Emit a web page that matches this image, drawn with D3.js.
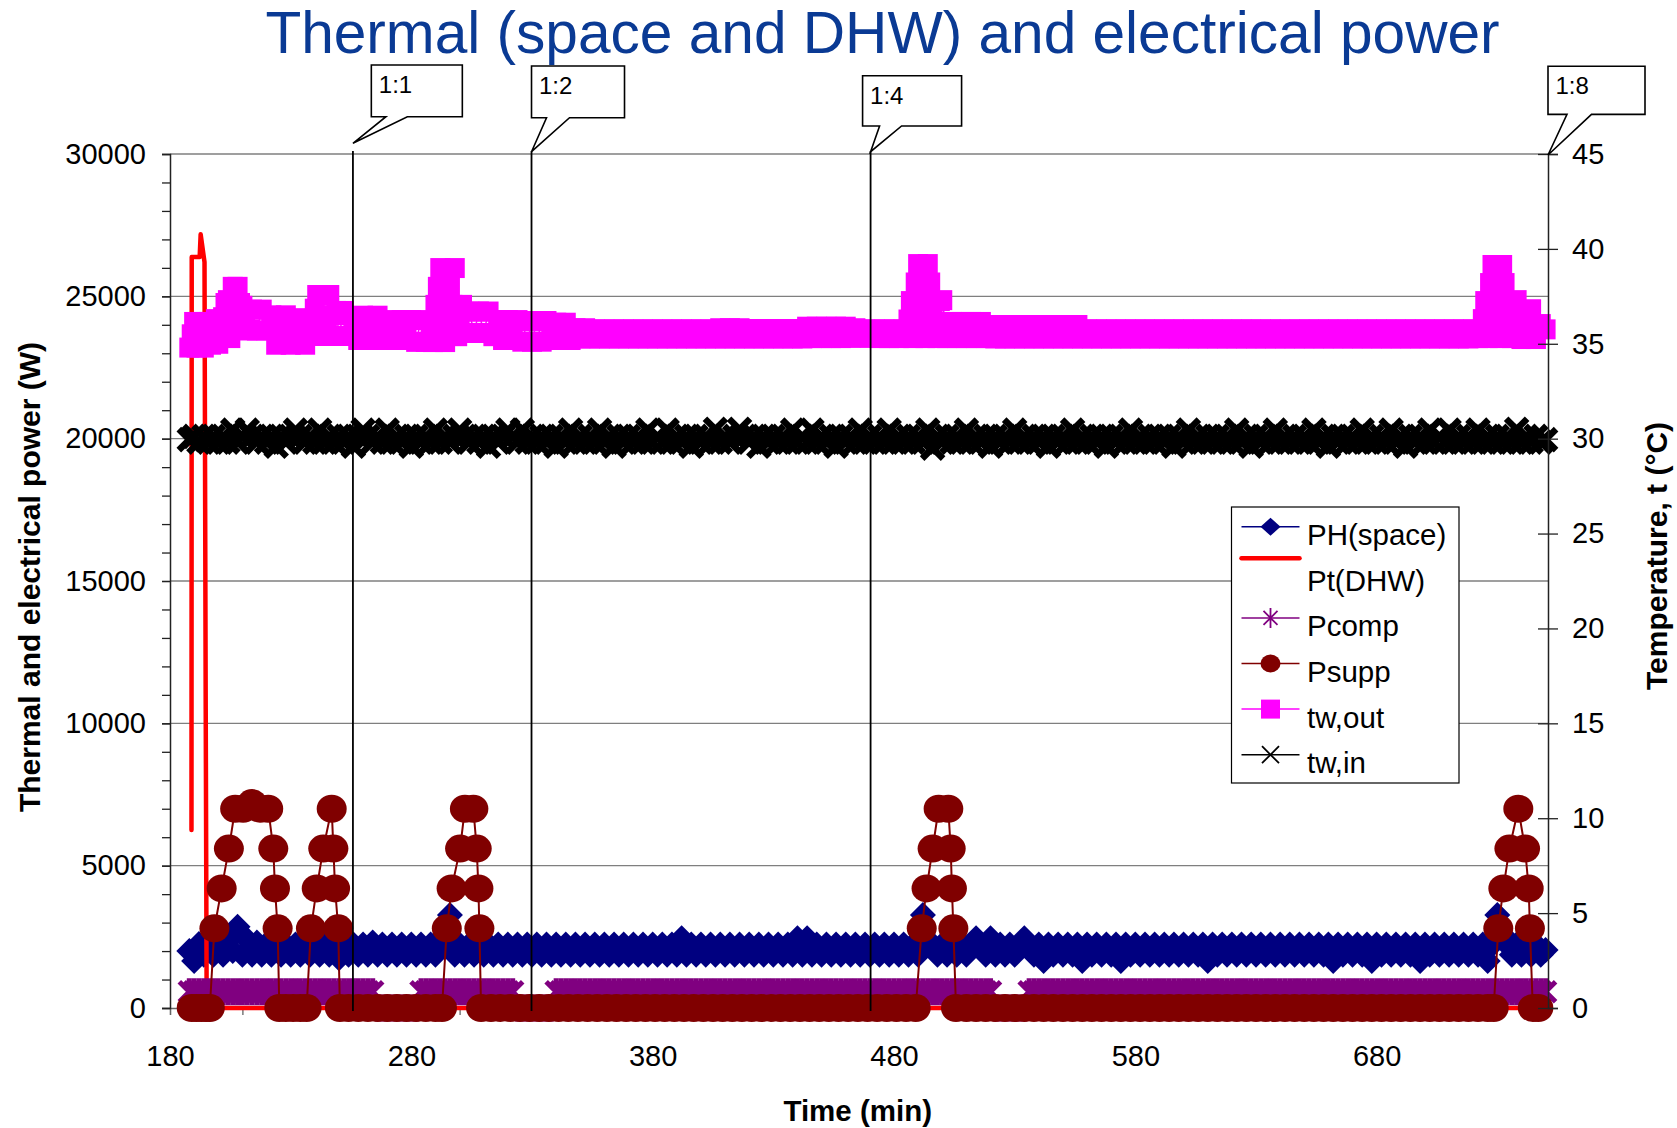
<!DOCTYPE html>
<html>
<head>
<meta charset="utf-8">
<script src="https://cdnjs.cloudflare.com/ajax/libs/d3/7.8.5/d3.min.js"></script>
<style>
  body { margin: 0; background: #fff; }
  svg { display: block; font-family: "Liberation Sans", Arial, sans-serif; }
</style>
</head>
<body>
<div id="container"></div>
<script>
// logged every 2 min from 188 to 750 min
const minutes = d3.range(188, 751, 2)

// PH(space), W
const phSpace = [
  2000, 1650, 2250, 1870, 2350, 1870, 2300, 1870, 2350, 2000,
  2850, 1870, 2400, 1870, 2300, 1870, 2250, 1870, 2300, 1870,
  2230, 1870, 2230, 1870, 2230, 1870, 2300, 1870, 2230, 1870,
  2230, 1750, 2230, 1870, 2230, 1870, 2230, 1870, 2300, 1870,
  2230, 1870, 2230, 1870, 2230, 1870, 2230, 1870, 2230, 1870,
  2230, 1870, 2230, 2600, 3270, 1870, 2230, 1870, 2230, 1870,
  2230, 1870, 2230, 1870, 2230, 1870, 2230, 1870, 2230, 1870,
  2230, 1870, 2230, 1870, 2230, 1870, 2230, 1870, 2230, 1870,
  2230, 1870, 2230, 1870, 2230, 1870, 2230, 1870, 2230, 1870,
  2230, 1870, 2230, 1870, 2230, 1870, 2230, 1870, 2230, 1870,
  2230, 1870, 2450, 1870, 2230, 1870, 2230, 1870, 2230, 1870,
  2230, 1870, 2230, 1870, 2230, 1870, 2230, 1870, 2230, 1870,
  2230, 1870, 2230, 1870, 2230, 1870, 2450, 1870, 2450, 1870,
  2230, 1870, 2230, 1870, 2230, 1870, 2230, 1870, 2230, 1870,
  2230, 1870, 2230, 1870, 2230, 1870, 2230, 1870, 2230, 1870,
  2230, 1870, 3270, 2300, 2230, 1870, 2230, 1870, 2230, 1870,
  2230, 1870, 2230, 2450, 2230, 1870, 2450, 1870, 2230, 1870,
  2230, 1870, 2230, 2450, 2230, 1870, 2230, 1650, 2230, 1870,
  2230, 1870, 2230, 1870, 2230, 1650, 2230, 1870, 2230, 1870,
  2230, 1870, 2230, 1650, 2230, 1870, 2230, 1870, 2230, 1870,
  2230, 1870, 2230, 1870, 2230, 1870, 2230, 1870, 2230, 1870,
  2230, 1650, 2230, 1870, 2230, 1870, 2230, 1870, 2230, 1870,
  2230, 1870, 2230, 1870, 2230, 1870, 2230, 1870, 2230, 1870,
  2230, 1870, 2230, 1870, 2230, 1870, 2230, 1650, 2230, 1870,
  2230, 1870, 2230, 1870, 2230, 1650, 2230, 1870, 2230, 1870,
  2230, 1870, 2230, 1870, 2230, 1650, 2230, 1870, 2230, 1870,
  2230, 1870, 2230, 1870, 2230, 1870, 2230, 1870, 2230, 1650,
  2230, 3270, 2600, 2230, 1870, 2230, 1870, 2230, 1870, 2230,
  1870, 2037
]

// Pcomp, W
const pComp = [
  570, 570, 570, 570, 570, 570, 570, 570, 570, 570,
  570, 570, 570, 570, 570, 570, 570, 570, 570, 570,
  570, 570, 570, 570, 570, 570, 570, 570, 570, 570,
  570, 570, 570, 570, 570, 570, 570, 570, 570, 0,
  0, 0, 0, 0, 0, 0, 0, 0, 570, 570,
  570, 570, 570, 570, 570, 570, 570, 570, 570, 570,
  570, 570, 570, 570, 570, 570, 570, 570, 0, 0,
  0, 0, 0, 0, 0, 0, 570, 570, 570, 570,
  570, 570, 570, 570, 570, 570, 570, 570, 570, 570,
  570, 570, 570, 570, 570, 570, 570, 570, 570, 570,
  570, 570, 570, 570, 570, 570, 570, 570, 570, 570,
  570, 570, 570, 570, 570, 570, 570, 570, 570, 570,
  570, 570, 570, 570, 570, 570, 570, 570, 570, 570,
  570, 570, 570, 570, 570, 570, 570, 570, 570, 570,
  570, 570, 570, 570, 570, 570, 570, 570, 570, 570,
  570, 570, 570, 570, 570, 570, 570, 570, 570, 570,
  570, 570, 570, 570, 570, 570, 570, 0, 0, 0,
  0, 0, 0, 0, 570, 570, 570, 570, 570, 570,
  570, 570, 570, 570, 570, 570, 570, 570, 570, 570,
  570, 570, 570, 570, 570, 570, 570, 570, 570, 570,
  570, 570, 570, 570, 570, 570, 570, 570, 570, 570,
  570, 570, 570, 570, 570, 570, 570, 570, 570, 570,
  570, 570, 570, 570, 570, 570, 570, 570, 570, 570,
  570, 570, 570, 570, 570, 570, 570, 570, 570, 570,
  570, 570, 570, 570, 570, 570, 570, 570, 570, 570,
  570, 570, 570, 570, 570, 570, 570, 570, 570, 570,
  570, 570, 570, 570, 570, 570, 570, 570, 570, 570,
  570, 570, 570, 570, 570, 570, 570, 570, 570, 570,
  570, 570
]

// tw,out, °C
const twOut = [
  34.8, 36.15, 35.5, 34.8, 36.15, 35.5, 35.0, 36.4, 37.3, 38.0,
  38.0, 37.0, 35.7, 36.8, 35.7, 36.8, 35.7, 36.5, 34.95, 35.75,
  36.5, 34.95, 36.35, 35.65, 34.95, 36.1, 36.85, 37.57, 35.41, 37.57,
  36.5, 35.41, 36.73, 35.41, 36.0, 35.2, 36.48, 35.84, 35.2, 36.48,
  35.84, 35.2, 36.25, 35.2, 36.25, 35.2, 36.25, 35.1, 36.25, 35.1,
  36.07, 37.05, 38.99, 35.09, 38.0, 38.99, 36.07, 35.57, 36.7, 35.57,
  36.7, 35.57, 36.7, 35.4, 36.25, 35.2, 36.25, 35.2, 36.25, 35.11,
  36.2, 35.11, 36.2, 35.11, 36.2, 35.2, 36.11, 35.2, 36.11, 35.2,
  35.82, 35.28, 35.82, 35.28, 35.76, 35.28, 35.76, 35.28, 35.76, 35.28,
  35.76, 35.28, 35.76, 35.28, 35.76, 35.28, 35.76, 35.28, 35.76, 35.28,
  35.76, 35.28, 35.76, 35.28, 35.76, 35.28, 35.76, 35.28, 35.76, 35.28,
  35.82, 35.28, 35.82, 35.28, 35.82, 35.28, 35.78, 35.28, 35.78, 35.28,
  35.78, 35.28, 35.78, 35.28, 35.78, 35.28, 35.78, 35.28, 35.9, 35.3,
  35.9, 35.3, 35.9, 35.3, 35.9, 35.3, 35.9, 35.32, 35.82, 35.32,
  35.76, 35.32, 35.76, 35.3, 35.76, 35.3, 35.76, 35.3, 35.76, 36.28,
  35.3, 39.2, 37.25, 39.2, 36.28, 35.3, 37.3, 35.3, 36.15, 35.3,
  36.15, 35.3, 36.15, 35.3, 36.15, 35.3, 35.99, 35.28, 35.99, 35.28,
  35.99, 35.28, 35.99, 35.28, 35.99, 35.28, 35.99, 35.28, 35.99, 35.28,
  35.99, 35.28, 35.99, 35.28, 35.99, 35.28, 35.76, 35.28, 35.76, 35.28,
  35.76, 35.28, 35.76, 35.28, 35.76, 35.28, 35.76, 35.28, 35.76, 35.28,
  35.76, 35.28, 35.76, 35.28, 35.76, 35.28, 35.76, 35.28, 35.76, 35.28,
  35.76, 35.28, 35.76, 35.28, 35.76, 35.28, 35.76, 35.28, 35.76, 35.28,
  35.76, 35.28, 35.76, 35.28, 35.76, 35.28, 35.76, 35.28, 35.76, 35.28,
  35.76, 35.28, 35.76, 35.28, 35.76, 35.28, 35.76, 35.28, 35.76, 35.28,
  35.76, 35.28, 35.76, 35.28, 35.76, 35.28, 35.76, 35.28, 35.76, 35.28,
  35.76, 35.28, 35.76, 35.28, 35.76, 35.28, 35.76, 35.28, 35.76, 35.28,
  35.76, 35.28, 35.76, 35.28, 35.76, 35.28, 35.76, 35.3, 36.3, 35.3,
  39.15, 37.25, 39.15, 36.3, 35.3, 37.3, 35.25, 36.04, 36.82, 35.25,
  36.04, 35.76
]

// tw,out at the odd minutes around the start and the DHW peaks, [min, °C]
const twOutPeaks = [
  [189, 35.5], [191, 34.8], [193, 36.15], [195, 35.5], [197, 34.95], [199, 36.3],
  [201, 36.25], [203, 37.15], [205, 35.3], [207, 36.25], [209, 37.15], [211, 36.25], [213, 35.73],
  [237, 35.5], [239, 35.41], [241, 37.57], [243, 36.5], [245, 36.1], [247, 35.41], [249, 36.73],
  [289, 35.09], [291, 38.0], [293, 37.05], [295, 36.07], [297, 37.05], [299, 35.4], [301, 37.05],
  [487, 37.25], [489, 38.23], [491, 36.28], [493, 35.3], [495, 38.23], [497, 37.25], [499, 37.25],
  [725, 37.25], [727, 38.2], [729, 36.3], [731, 35.3], [733, 38.2], [735, 37.25], [737, 36.3]
]

// tw,in, °C
const twIn = [
  29.95, 30.12, 29.82, 30.12, 29.82, 30.12, 29.82, 30.12, 29.82, 30.45,
  29.82, 30.12, 30.45, 30.12, 29.82, 30.12, 29.82, 30.12, 29.6, 30.12,
  29.82, 30.12, 30.45, 30.12, 29.82, 30.12, 29.82, 30.45, 29.82, 30.12,
  29.82, 30.12, 29.82, 30.12, 29.6, 30.12, 30.45, 30.12, 29.82, 30.12,
  29.82, 30.45, 29.82, 30.12, 29.82, 30.12, 29.6, 30.12, 29.82, 30.12,
  29.82, 30.45, 29.82, 30.12, 29.82, 30.12, 30.45, 30.12, 29.82, 30.12,
  29.82, 30.12, 29.6, 30.12, 29.82, 30.12, 30.45, 30.12, 29.82, 30.45,
  29.82, 30.12, 29.82, 30.12, 29.82, 30.12, 29.6, 30.12, 29.82, 30.45,
  29.82, 30.12, 29.82, 30.12, 29.82, 30.45, 29.82, 30.12, 29.6, 30.12,
  29.82, 30.12, 29.82, 30.12, 29.82, 30.45, 29.82, 30.12, 29.82, 30.45,
  29.82, 30.12, 29.82, 30.12, 29.6, 30.12, 29.82, 30.12, 29.82, 30.5,
  29.82, 30.12, 29.82, 30.12, 30.5, 30.12, 29.82, 30.12, 29.6, 30.12,
  29.82, 30.12, 29.82, 30.12, 29.82, 30.45, 29.82, 30.12, 29.82, 30.45,
  29.82, 30.12, 29.82, 30.12, 29.6, 30.12, 29.82, 30.12, 29.82, 30.45,
  29.82, 30.12, 29.82, 30.12, 29.82, 30.45, 29.82, 30.12, 29.82, 30.12,
  29.82, 30.12, 29.82, 30.45, 29.5, 30.12, 29.82, 30.12, 29.82, 30.12,
  29.82, 30.45, 29.82, 30.12, 29.82, 30.12, 29.6, 30.12, 29.82, 30.12,
  29.82, 30.45, 29.82, 30.12, 29.82, 30.12, 29.82, 30.12, 29.6, 30.12,
  29.82, 30.12, 29.82, 30.45, 29.82, 30.12, 29.82, 30.12, 29.82, 30.12,
  29.6, 30.12, 29.82, 30.12, 29.82, 30.45, 29.82, 30.12, 29.82, 30.12,
  29.82, 30.12, 29.82, 30.12, 29.6, 30.12, 29.82, 30.45, 29.82, 30.12,
  29.82, 30.12, 29.82, 30.12, 29.82, 30.12, 29.82, 30.45, 29.82, 30.12,
  29.6, 30.12, 29.82, 30.12, 29.82, 30.45, 29.82, 30.12, 29.82, 30.12,
  29.82, 30.12, 29.82, 30.45, 29.82, 30.12, 29.6, 30.12, 29.82, 30.12,
  29.82, 30.12, 29.82, 30.45, 29.82, 30.12, 29.82, 30.12, 29.82, 30.45,
  29.82, 30.12, 29.6, 30.12, 29.82, 30.12, 29.82, 30.45, 29.82, 30.12,
  29.82, 30.45, 29.82, 30.12, 29.82, 30.12, 29.82, 30.45, 29.82, 30.12,
  29.82, 30.12, 29.82, 30.12, 29.82, 30.5, 29.82, 30.12, 29.82, 30.12,
  29.82, 29.95
]

// Pt(DHW), [min, W]
const ptDHW = [
  [188.9, 6250], [189.0, 26380], [192.3, 26380], [192.7, 27180], [194.3, 26200],
  [194.8, 10500], [195.2, 0], [751, 0]
]

// Psupp, [min, W]
const pSupp = [
  [189, 0], [191, 0], [193, 0], [195, 0], [196.5, 0],
  [198.4, 2800], [201.4, 4200], [204.4, 5600], [207, 7000], [210.3, 7000], [214, 7200],
  [217.3, 7000], [220.7, 7000], [222.8, 5600], [223.5, 4200], [224.6, 2800], [225.3, 0],
  [228, 0], [231, 0], [234, 0], [236.6, 0],
  [238.4, 2800], [240.8, 4200], [243.5, 5600], [247, 7000], [247.7, 5600], [248.4, 4200],
  [249.7, 2800], [250.4, 0],
  [254, 0], [258, 0], [262, 0], [266, 0], [270, 0], [274, 0], [278, 0], [282, 0],
  [286, 0], [290, 0], [292.7, 0],
  [294.7, 2800], [296.7, 4200], [300.2, 5600], [302.2, 7000], [305.7, 7000], [307.1, 5600],
  [307.8, 4200], [308.2, 2800], [308.9, 0],
  [313, 0], [317, 0], [321, 0], [325, 0], [329, 0], [333, 0], [337, 0], [341, 0], [345, 0],
  [349, 0], [353, 0], [357, 0], [361, 0], [365, 0], [369, 0], [373, 0], [377, 0], [381, 0],
  [385, 0], [389, 0], [393, 0], [397, 0], [401, 0], [405, 0], [409, 0], [413, 0], [417, 0],
  [421, 0], [425, 0], [429, 0], [433, 0], [437, 0], [441, 0], [445, 0], [449, 0], [453, 0],
  [457, 0], [461, 0], [465, 0], [469, 0], [473, 0], [477, 0], [481, 0], [485, 0], [489, 0],
  [491.5, 2800], [493.5, 4200], [496, 5600], [498.5, 7000], [502.5, 7000], [503.5, 5600],
  [504, 4200], [504.6, 2800], [505.7, 0],
  [510, 0], [514, 0], [518, 0], [522, 0], [526, 0], [530, 0], [534, 0], [538, 0], [542, 0],
  [546, 0], [550, 0], [554, 0], [558, 0], [562, 0], [566, 0], [570, 0], [574, 0], [578, 0],
  [582, 0], [586, 0], [590, 0], [594, 0], [598, 0], [602, 0], [606, 0], [610, 0], [614, 0],
  [618, 0], [622, 0], [626, 0], [630, 0], [634, 0], [638, 0], [642, 0], [646, 0], [650, 0],
  [654, 0], [658, 0], [662, 0], [666, 0], [670, 0], [674, 0], [678, 0], [682, 0], [686, 0],
  [690, 0], [694, 0], [698, 0], [702, 0], [706, 0], [710, 0], [714, 0], [718, 0], [722, 0],
  [726, 0], [728.5, 0],
  [730.4, 2800], [732.5, 4200], [735, 5600], [738.7, 7000], [741.5, 5600], [743, 4200],
  [743.5, 2800], [744.7, 0], [747, 0]
]

// supply temperature ratio changes
const ratioLabels = ['1:1', '1:2', '1:4', '1:8']
const ratioTimes = [255.8, 329.8, 470.3, 751]

const xTicks = [180, 280, 380, 480, 580, 680]
const powerTicks = [0, 5000, 10000, 15000, 20000, 25000, 30000]
const tempTicks = [0, 5, 10, 15, 20, 25, 30, 35, 40, 45]

const width = 1677
const height = 1128
const plot = { left: 170, right: 1548, top: 154, bottom: 1008 }

const svg = d3.select('#container').append('svg')
    .attr('width', width).attr('height', height)
    .style('background', '#fff')

const xScale = d3.scaleLinear().domain([180, 751]).range([plot.left, plot.right])
const yPower = d3.scaleLinear().domain([0, 30000]).range([plot.bottom, plot.top])
const yTemp = d3.scaleLinear().domain([0, 45]).range([plot.bottom, plot.top])

// marker shapes
const diamond = (w, h) => `M0,${-h}L${w},0L0,${h}L${-w},0Z`
const square = s => `M${-s},${-s}H${s}V${s}H${-s}Z`
const cross = s => `M${-s},${-s}L${s},${s}M${s},${-s}L${-s},${s}`
const star = (a, b) => cross(a) + `M0,${-b}V${b}`
const ellipse = (rx, ry) => `M${-rx},0A${rx},${ry} 0 1 0 ${rx},0A${rx},${ry} 0 1 0 ${-rx},0Z`

// horizontal gridlines
svg.append('g').selectAll('line').data(powerTicks.filter(v => v > 0)).enter().append('line')
    .attr('x1', plot.left).attr('x2', plot.right)
    .attr('y1', d => yPower(d)).attr('y2', d => yPower(d))
    .attr('stroke', '#7f7f7f').attr('stroke-width', 1.3)

const drawSeries = (points, y, o) => {
    const g = svg.append('g')
    if (o.stroke) {
        g.append('path').datum(points)
            .attr('d', d3.line().x(d => xScale(d[0])).y(d => y(d[1])))
            .attr('fill', 'none')
            .attr('stroke', o.stroke)
            .attr('stroke-width', o.strokeWidth)
            .attr('stroke-linejoin', 'round')
            .attr('stroke-linecap', 'round')
    }
    if (o.marker) {
        g.selectAll('path.mk').data(points).enter().append('path')
            .attr('class', 'mk')
            .attr('transform', d => `translate(${xScale(d[0])},${y(d[1])})`)
            .attr('d', o.marker)
            .attr('fill', o.fill || 'none')
            .attr('stroke', o.markerStroke || 'none')
            .attr('stroke-width', o.markerWidth || 0)
    }
}

const onGrid = values => minutes.map((t, i) => [t, values[i]])
const twOutPoints = onGrid(twOut).concat(twOutPeaks).sort((a, b) => a[0] - b[0])

drawSeries(onGrid(phSpace), yPower, { stroke: '#000080', strokeWidth: 1.5, marker: diamond(13, 13), fill: '#000080' })
drawSeries(ptDHW, yPower, { stroke: '#ff0000', strokeWidth: 4.5 })
drawSeries(onGrid(pComp), yPower, { stroke: '#800080', strokeWidth: 1.5, marker: star(10, 13.5), markerStroke: '#800080', markerWidth: 5 })
drawSeries(pSupp, yPower, { stroke: '#800000', strokeWidth: 2, marker: ellipse(15, 14), fill: '#800000' })
drawSeries(twOutPoints, yTemp, { stroke: '#ff00ff', strokeWidth: 1.5, marker: square(10), fill: '#ff00ff' })
drawSeries(onGrid(twIn), yTemp, { stroke: '#000000', strokeWidth: 3, marker: cross(10.5), markerStroke: '#000000', markerWidth: 6.5 })

// ratio change lines
svg.append('g').selectAll('line').data(ratioTimes.filter(t => t < 751)).enter().append('line')
    .attr('x1', d => xScale(d)).attr('x2', d => xScale(d))
    .attr('y1', 151).attr('y2', 1011)
    .attr('stroke', '#000').attr('stroke-width', 1.8)

// axes
const axisFont = g => g.selectAll('text')
    .attr('font-family', '"Liberation Sans", Arial, sans-serif')
    .attr('font-size', 29).attr('fill', '#000')

svg.append('g')
    .attr('transform', `translate(${plot.left},0)`)
    .call(d3.axisLeft(yPower).tickValues(d3.range(0, 30001, 1000)).tickSize(8).tickFormat(''))
    .call(g => g.select('.domain').attr('stroke', '#222').attr('stroke-width', 1.5))
    .call(g => g.selectAll('.tick line').attr('stroke', '#222').attr('stroke-width', 1.3))

svg.append('g')
    .attr('transform', `translate(${plot.left},0)`)
    .call(d3.axisLeft(yPower).tickValues(powerTicks).tickSize(8).tickPadding(16).tickFormat(d3.format('d')))
    .call(g => g.select('.domain').remove())
    .call(g => g.selectAll('.tick line').attr('stroke', '#222').attr('stroke-width', 1.3))
    .call(axisFont)

svg.append('g')
    .attr('transform', `translate(${plot.right},0)`)
    .call(d3.axisRight(yTemp).tickValues(tempTicks).tickSize(10).tickPadding(14))
    .call(g => g.select('.domain').attr('stroke', '#222').attr('stroke-width', 1.5))
    .call(g => g.selectAll('.tick line').attr('x1', -10).attr('stroke', '#222').attr('stroke-width', 1.3))
    .call(axisFont)

svg.append('g')
    .attr('transform', `translate(0,${plot.bottom})`)
    .call(d3.axisBottom(xScale).tickValues(d3.range(180, 751, 30)).tickSize(7).tickFormat(''))
    .call(g => g.select('.domain').attr('stroke', '#666').attr('stroke-width', 1.3))
    .call(g => g.selectAll('.tick line').attr('stroke', '#666').attr('stroke-width', 1.3))
    .lower()

svg.append('g')
    .attr('transform', `translate(0,${plot.bottom})`)
    .call(d3.axisBottom(xScale).tickValues(xTicks).tickSize(0).tickPadding(37))
    .call(g => g.select('.domain').remove())
    .call(axisFont)

// callouts
const callouts = [
    { tipY: 143.3, left: 18.4, right: 109.4, top: 65, bottom: 116.7, b1: 33, b2: 54.4 },
    { tipY: 151.7, left: 0, right: 93, top: 66, bottom: 117.7, b1: 15, b2: 38 },
    { tipY: 151.7, left: -8, right: 91, top: 75.7, bottom: 126, b1: 9, b2: 31 },
    { tipY: 155, left: 0, right: 97, top: 66.3, bottom: 114.4, b1: 19, b2: 43.5 }
]
const calloutG = svg.append('g').selectAll('g').data(ratioTimes).enter().append('g')
    .attr('transform', d => `translate(${xScale(d)},0)`)
calloutG.append('path')
    .attr('d', (d, i) => {
        const c = callouts[i]
        return `M${c.left},${c.top}H${c.right}V${c.bottom}H${c.b2}L0,${c.tipY}L${c.b1},${c.bottom}H${c.left}Z`
    })
    .attr('fill', '#fff').attr('stroke', '#000').attr('stroke-width', 1.6)
calloutG.append('text')
    .attr('x', (d, i) => callouts[i].left + 7.5)
    .attr('y', (d, i) => callouts[i].top + 28)
    .attr('font-size', 24)
    .text((d, i) => ratioLabels[i])

// legend
const legendItems = [
    { name: 'PH(space)', color: '#000080', marker: diamond(10, 9), fill: true },
    { name: 'Pt(DHW)', color: '#ff0000', thick: true },
    { name: 'Pcomp', color: '#800080', marker: star(7, 10) },
    { name: 'Psupp', color: '#800000', marker: ellipse(10, 9), fill: true },
    { name: 'tw,out', color: '#ff00ff', marker: square(9.5), fill: true },
    { name: 'tw,in', color: '#000000', marker: cross(8.5) }
]
const legend = svg.append('g')
legend.append('rect')
    .attr('x', 1231.5).attr('y', 507).attr('width', 227.5).attr('height', 276)
    .attr('fill', '#fff').attr('stroke', '#000').attr('stroke-width', 1.2)
const rows = legend.selectAll('g.row').data(legendItems).enter().append('g')
    .attr('class', 'row')
    .attr('transform', (d, i) => `translate(0,${526.7 + i * 45.6})`)
rows.append('line')
    .attr('x1', 1241.5).attr('x2', 1299.5)
    .attr('y1', d => d.thick ? -14 : 0).attr('y2', d => d.thick ? -14 : 0)
    .attr('stroke', d => d.color)
    .attr('stroke-width', d => d.thick ? 4.5 : 1.5)
    .attr('stroke-linecap', d => d.thick ? 'round' : 'butt')
rows.filter(d => d.marker).append('path')
    .attr('transform', 'translate(1270.5,0)')
    .attr('d', d => d.marker)
    .attr('fill', d => d.fill ? d.color : 'none')
    .attr('stroke', d => d.color)
    .attr('stroke-width', d => d.fill ? 0 : 1.8)
rows.append('text')
    .attr('x', 1307).attr('y', 18.5)
    .attr('font-size', 29.5)
    .text(d => d.name)

// titles
svg.append('text')
    .attr('x', 882.5).attr('y', 53.3)
    .attr('text-anchor', 'middle')
    .attr('font-size', 58.6).attr('fill', '#0a3a94')
    .text('Thermal (space and DHW) and electrical power')

svg.append('text')
    .attr('x', 857.7).attr('y', 1121)
    .attr('text-anchor', 'middle')
    .attr('font-size', 29.5).attr('font-weight', 'bold')
    .text('Time (min)')

svg.append('text')
    .attr('transform', 'translate(29,577) rotate(-90)')
    .attr('text-anchor', 'middle').attr('dominant-baseline', 'central')
    .attr('font-size', 30).attr('font-weight', 'bold')
    .text('Thermal and electrical power (W)')

svg.append('text')
    .attr('transform', 'translate(1656,556) rotate(-90)')
    .attr('text-anchor', 'middle').attr('dominant-baseline', 'central')
    .attr('font-size', 30).attr('font-weight', 'bold')
    .text('Temperature, t (°C)')
</script>
</body>
</html>
